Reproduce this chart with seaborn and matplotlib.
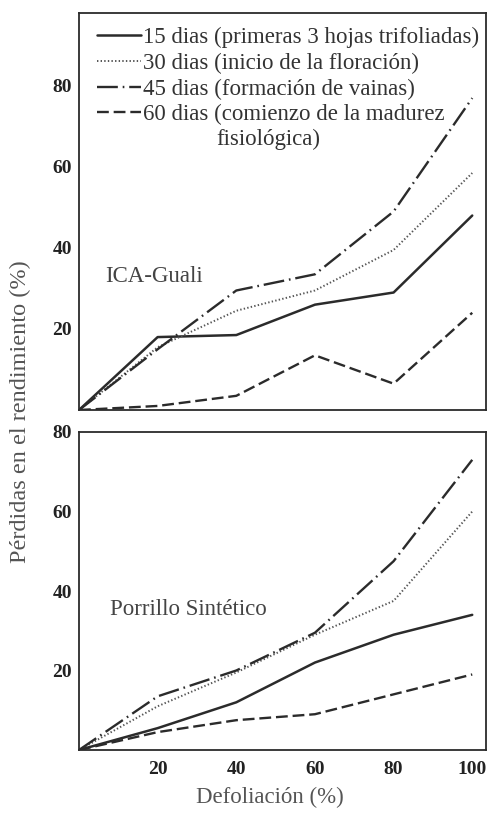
import matplotlib
matplotlib.use("Agg")
import matplotlib.pyplot as plt
import seaborn as sns
import pandas as pd

# Defoliation levels (%) and yield losses (%) per growth stage
defoliacion = [0, 20, 40, 60, 80, 100]

gauli_15 = [0, 18, 18.5, 26, 29, 48]
gauli_30 = [0, 15.5, 24.5, 29.5, 39.5, 58.5]
gauli_45 = [0, 15, 29.5, 33.5, 49, 77]
gauli_60 = [0, 1, 3.5, 13.5, 6.5, 24]

porrillo_15 = [0, 5.5, 12, 22, 29, 34]
porrillo_30 = [0, 11, 19.5, 29, 37.5, 60]
porrillo_45 = [0, 13.5, 20, 29.5, 47.5, 73]
porrillo_60 = [0, 4.5, 7.5, 9, 14, 19]

etapas = [
    "15 dias (primeras 3 hojas trifoliadas)",
    "30 dias (inicio de la floración)",
    "45 dias (formación de vainas)",
    "60 dias (comienzo de la madurez\nfisiológica)",
]
variedades = ["ICA-Guali", "Porrillo Sintético"]
x_ticks = [20, 40, 60, 80, 100]
y_ticks = [20, 40, 60, 80]

sns.set_style("white")
plt.rcParams["font.family"] = ["Liberation Serif", "DejaVu Serif"]
plt.rcParams["lines.scale_dashes"] = False

ink = "#2b2b2b"
styles = [
    dict(linestyle="-", linewidth=1.8, color=ink),
    dict(linestyle=(0, (1.0, 1.6)), linewidth=1.4, color="#555555"),
    dict(linestyle=(0, (15, 3.5, 1.2, 3.5)), linewidth=1.7, color=ink),
    dict(linestyle=(0, (8.5, 3.5)), linewidth=1.7, color=ink),
]

fig = plt.figure(figsize=(4.88, 8.24), dpi=100)
ax_top = fig.add_axes([79 / 488, 1 - 410 / 824, 407 / 488, 397 / 824])
ax_bot = fig.add_axes([79 / 488, 1 - 750 / 824, 407 / 488, 318 / 824])

series_top = [gauli_15, gauli_30, gauli_45, gauli_60]
series_bot = [porrillo_15, porrillo_30, porrillo_45, porrillo_60]

handles = []
for ax, series in ((ax_top, series_top), (ax_bot, series_bot)):
    for vals, st in zip(series, styles):
        df = pd.DataFrame({"x": defoliacion, "y": vals})
        sns.lineplot(data=df, x="x", y="y", ax=ax, legend=False, **st)
        if ax is ax_top:
            handles.append(ax.lines[-1])

for ax in (ax_top, ax_bot):
    ax.set_xlim(0, 103.5)
    ax.set_xticks(x_ticks)
    ax.set_yticks(y_ticks)
    ax.set_xlabel("")
    ax.set_ylabel("")
    ax.tick_params(axis="y", direction="in", length=8, width=1.0, color=ink, pad=5)
    ax.tick_params(axis="x", direction="in", length=4, width=1.0, color=ink, pad=8)
    for sp in ax.spines.values():
        sp.set_color(ink)
        sp.set_linewidth(1.3)
    for lbl in ax.get_yticklabels() + ax.get_xticklabels():
        lbl.set_fontweight("bold")
        lbl.set_fontsize(14)
        lbl.set_color("#222222")

ax_top.set_ylim(0, 98)
ax_bot.set_ylim(0, 80)
ax_top.set_xticklabels([])

ax_top.text(0.064, 0.3375, variedades[0], transform=ax_top.transAxes,
            fontsize=16.5, color="#444444", va="center", ha="left")
ax_bot.text(0.076, 0.443, variedades[1], transform=ax_bot.transAxes,
            fontsize=16.5, color="#444444", va="center", ha="left")

# Legend rows carry the first line of each label; the wrapped tail of the
# last label sits under its row, centred.
first_lines = [e.split("\n")[0] for e in etapas]
leg = ax_top.legend(handles, first_lines,
                    loc="upper left", bbox_to_anchor=(97 / 488, 1 - 27 / 824),
                    bbox_transform=fig.transFigure, frameon=False,
                    fontsize=16.5, handlelength=1.9, handletextpad=0.1,
                    labelspacing=0.2, borderpad=0, borderaxespad=0)
for t in leg.get_texts():
    t.set_color("#333333")
tail = etapas[3].split("\n")[1]
fig.text(268 / 488, 1 - 139 / 824, tail, ha="center", va="center",
         fontsize=16.5, color="#333333")

fig.text(20 / 488, 1 - 412 / 824, "Pérdidas en el rendimiento (%)",
         rotation=90, ha="center", va="center", fontsize=17.5, color="#555555")
fig.text(270 / 488, 1 - 797 / 824, "Defoliación (%)",
         ha="center", va="center", fontsize=16.5, color="#555555")

fig.savefig("out.png", dpi=100)
